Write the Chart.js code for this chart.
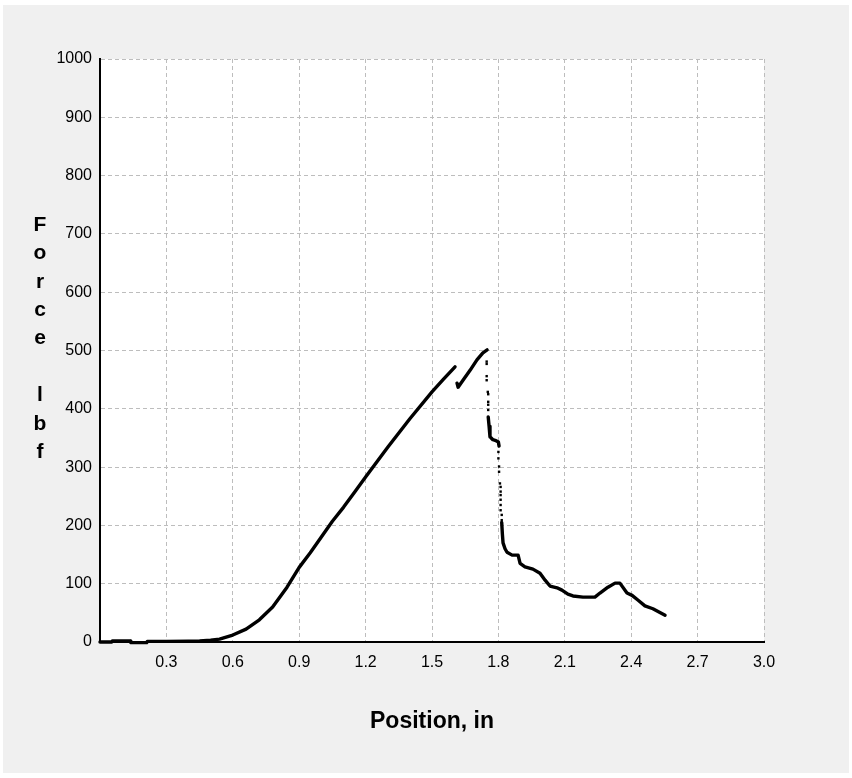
<!DOCTYPE html>
<html>
<head>
<meta charset="utf-8">
<script src="https://cdn.jsdelivr.net/npm/chart.js@4/dist/chart.umd.min.js"></script>
<style>
  html, body { margin: 0; padding: 0; background: #fff; }
  canvas { display: block; }
</style>
</head>
<body>
<canvas id="chart" width="852" height="778"></canvas>
<script>
"use strict"

//////////    Data    ///////////////

// loading part, up to the first crack
const riseX = [0, 0.053, 0.056, 0.136, 0.139, 0.211, 0.214, 0.3, 0.4, 0.45, 0.5, 0.54, 0.6, 0.66, 0.72, 0.78, 0.845, 0.9, 0.95, 1.0, 1.05, 1.1, 1.15, 1.2, 1.3, 1.4, 1.5, 1.55, 1.604];
const riseY = [0, 0, 2, 2, -1, -1, 1, 1, 1.5, 2, 3, 5, 12, 22, 38, 60, 94, 128, 153, 180, 207, 231, 257, 283, 334, 383, 429, 450, 472];

// reloading up to the peak
const peakX = [1.613, 1.618, 1.64, 1.672, 1.703, 1.73, 1.749];
const peakY = [444, 437, 449, 466, 484, 496, 501];

// sparse samples during the break
const dropX = [1.747, 1.747, 1.747, 1.747, 1.752, 1.754, 1.754, 1.754, 1.754, 1.8, 1.8, 1.8, 1.803, 1.803, 1.807, 1.81, 1.81, 1.81, 1.81, 1.81, 1.81, 1.815, 1.815];
const dropY = [481, 477, 456, 449, 429, 425, 412, 407, 398, 341, 326, 315, 301, 292, 272, 266, 258, 252, 244, 235, 226, 218, 209];

// short hold after the first drop
const holdX = [1.754, 1.758, 1.762, 1.775, 1.785, 1.8, 1.803];
const holdY = [386, 370, 352, 347, 346, 343, 336];

// tail after the break
const tailX = [1.815, 1.818, 1.821, 1.83, 1.839, 1.862, 1.889, 1.898, 1.92, 1.956, 1.988, 2.011, 2.033, 2.065, 2.087, 2.114, 2.137, 2.182, 2.236, 2.259, 2.295, 2.327, 2.349, 2.381, 2.404, 2.43, 2.462, 2.498, 2.553];
const tailY = [205, 185, 170, 160, 154, 149, 149, 135, 129, 125, 118, 106, 96, 93, 89, 82, 79, 77, 77, 84, 94, 101, 101, 84, 80, 72, 62, 57, 46];

const xMin = 0, xMax = 3.0, xStep = 0.3;
const yMin = 0, yMax = 1000, yStep = 100;
const xTitle = "Position, in";
const yTitleLines = ["F", "o", "r", "c", "e", "", "l", "b", "f"];

function toPoints(xs, ys) {
  return xs.map((x, i) => ({ x: x, y: ys[i] }));
}

function lineSet(xs, ys) {
  return {
    data: toPoints(xs, ys),
    showLine: true,
    borderColor: '#000',
    borderWidth: 3.4,
    borderJoinStyle: 'round',
    borderCapStyle: 'round',
    pointRadius: 0,
    tension: 0,
    clip: false
  };
}

//////////    Background and titles    ///////////////

const backdrop = {
  id: 'backdrop',
  beforeDraw(chart) {
    const ctx = chart.ctx;
    const a = chart.chartArea;
    ctx.save();
    ctx.fillStyle = '#fff';
    ctx.fillRect(0, 0, chart.width, chart.height);
    ctx.fillStyle = '#f0f0f0';
    ctx.fillRect(3, 5, 846, 768);
    ctx.fillStyle = '#fff';
    ctx.fillRect(a.left, a.top, a.right - a.left, a.bottom - a.top);
    ctx.restore();
  },
  afterDraw(chart) {
    const ctx = chart.ctx;
    ctx.save();
    ctx.fillStyle = '#000';
    ctx.textAlign = 'center';
    ctx.textBaseline = 'middle';
    ctx.font = 'bold 23px "Liberation Sans", Arial, sans-serif';
    ctx.fillText(xTitle, 432, 722);
    ctx.font = 'bold 21px "Liberation Sans", Arial, sans-serif';
    yTitleLines.forEach((ch, i) => {
      ctx.fillText(ch, 40, 225 + i * 28.4);
    });
    ctx.restore();
  }
};

//////////    Chart    ///////////////

const tickFont = { family: '"Liberation Sans", Arial, sans-serif', size: 16 };

new Chart(document.getElementById('chart'), {
  type: 'scatter',
  data: {
    datasets: [
      lineSet(riseX, riseY),
      lineSet(peakX, peakY),
      lineSet(holdX, holdY),
      lineSet(tailX, tailY),
      {
        data: toPoints(dropX, dropY),
        showLine: false,
        backgroundColor: '#000',
        borderColor: '#000',
        borderWidth: 0,
        pointStyle: 'rect',
        pointRadius: 1.7
      }
    ]
  },
  options: {
    responsive: false,
    animation: false,
    events: [],
    layout: { padding: { left: 0, top: 59, right: 88, bottom: 0 } },
    plugins: {
      legend: { display: false },
      tooltip: { enabled: false }
    },
    scales: {
      x: {
        type: 'linear',
        min: xMin,
        max: xMax,
        afterFit: (scale) => { scale.height = 136; },
        ticks: {
          stepSize: xStep,
          color: '#000',
          font: tickFont,
          padding: 11,
          maxRotation: 0,
          callback: (v) => v === 0 ? '' : v.toFixed(1)
        },
        grid: { color: '#bdbdbd', lineWidth: 1, drawTicks: false },
        border: { display: true, color: '#000', width: 2, dash: [4, 3] }
      },
      y: {
        type: 'linear',
        min: yMin,
        max: yMax,
        afterFit: (scale) => { scale.width = 100; },
        ticks: {
          stepSize: yStep,
          color: '#000',
          font: tickFont,
          padding: 8,
          callback: (v) => String(v)
        },
        grid: { color: '#bdbdbd', lineWidth: 1, drawTicks: false },
        border: { display: true, color: '#000', width: 2, dash: [4, 3] }
      }
    }
  },
  plugins: [backdrop]
});
</script>
</body>
</html>
